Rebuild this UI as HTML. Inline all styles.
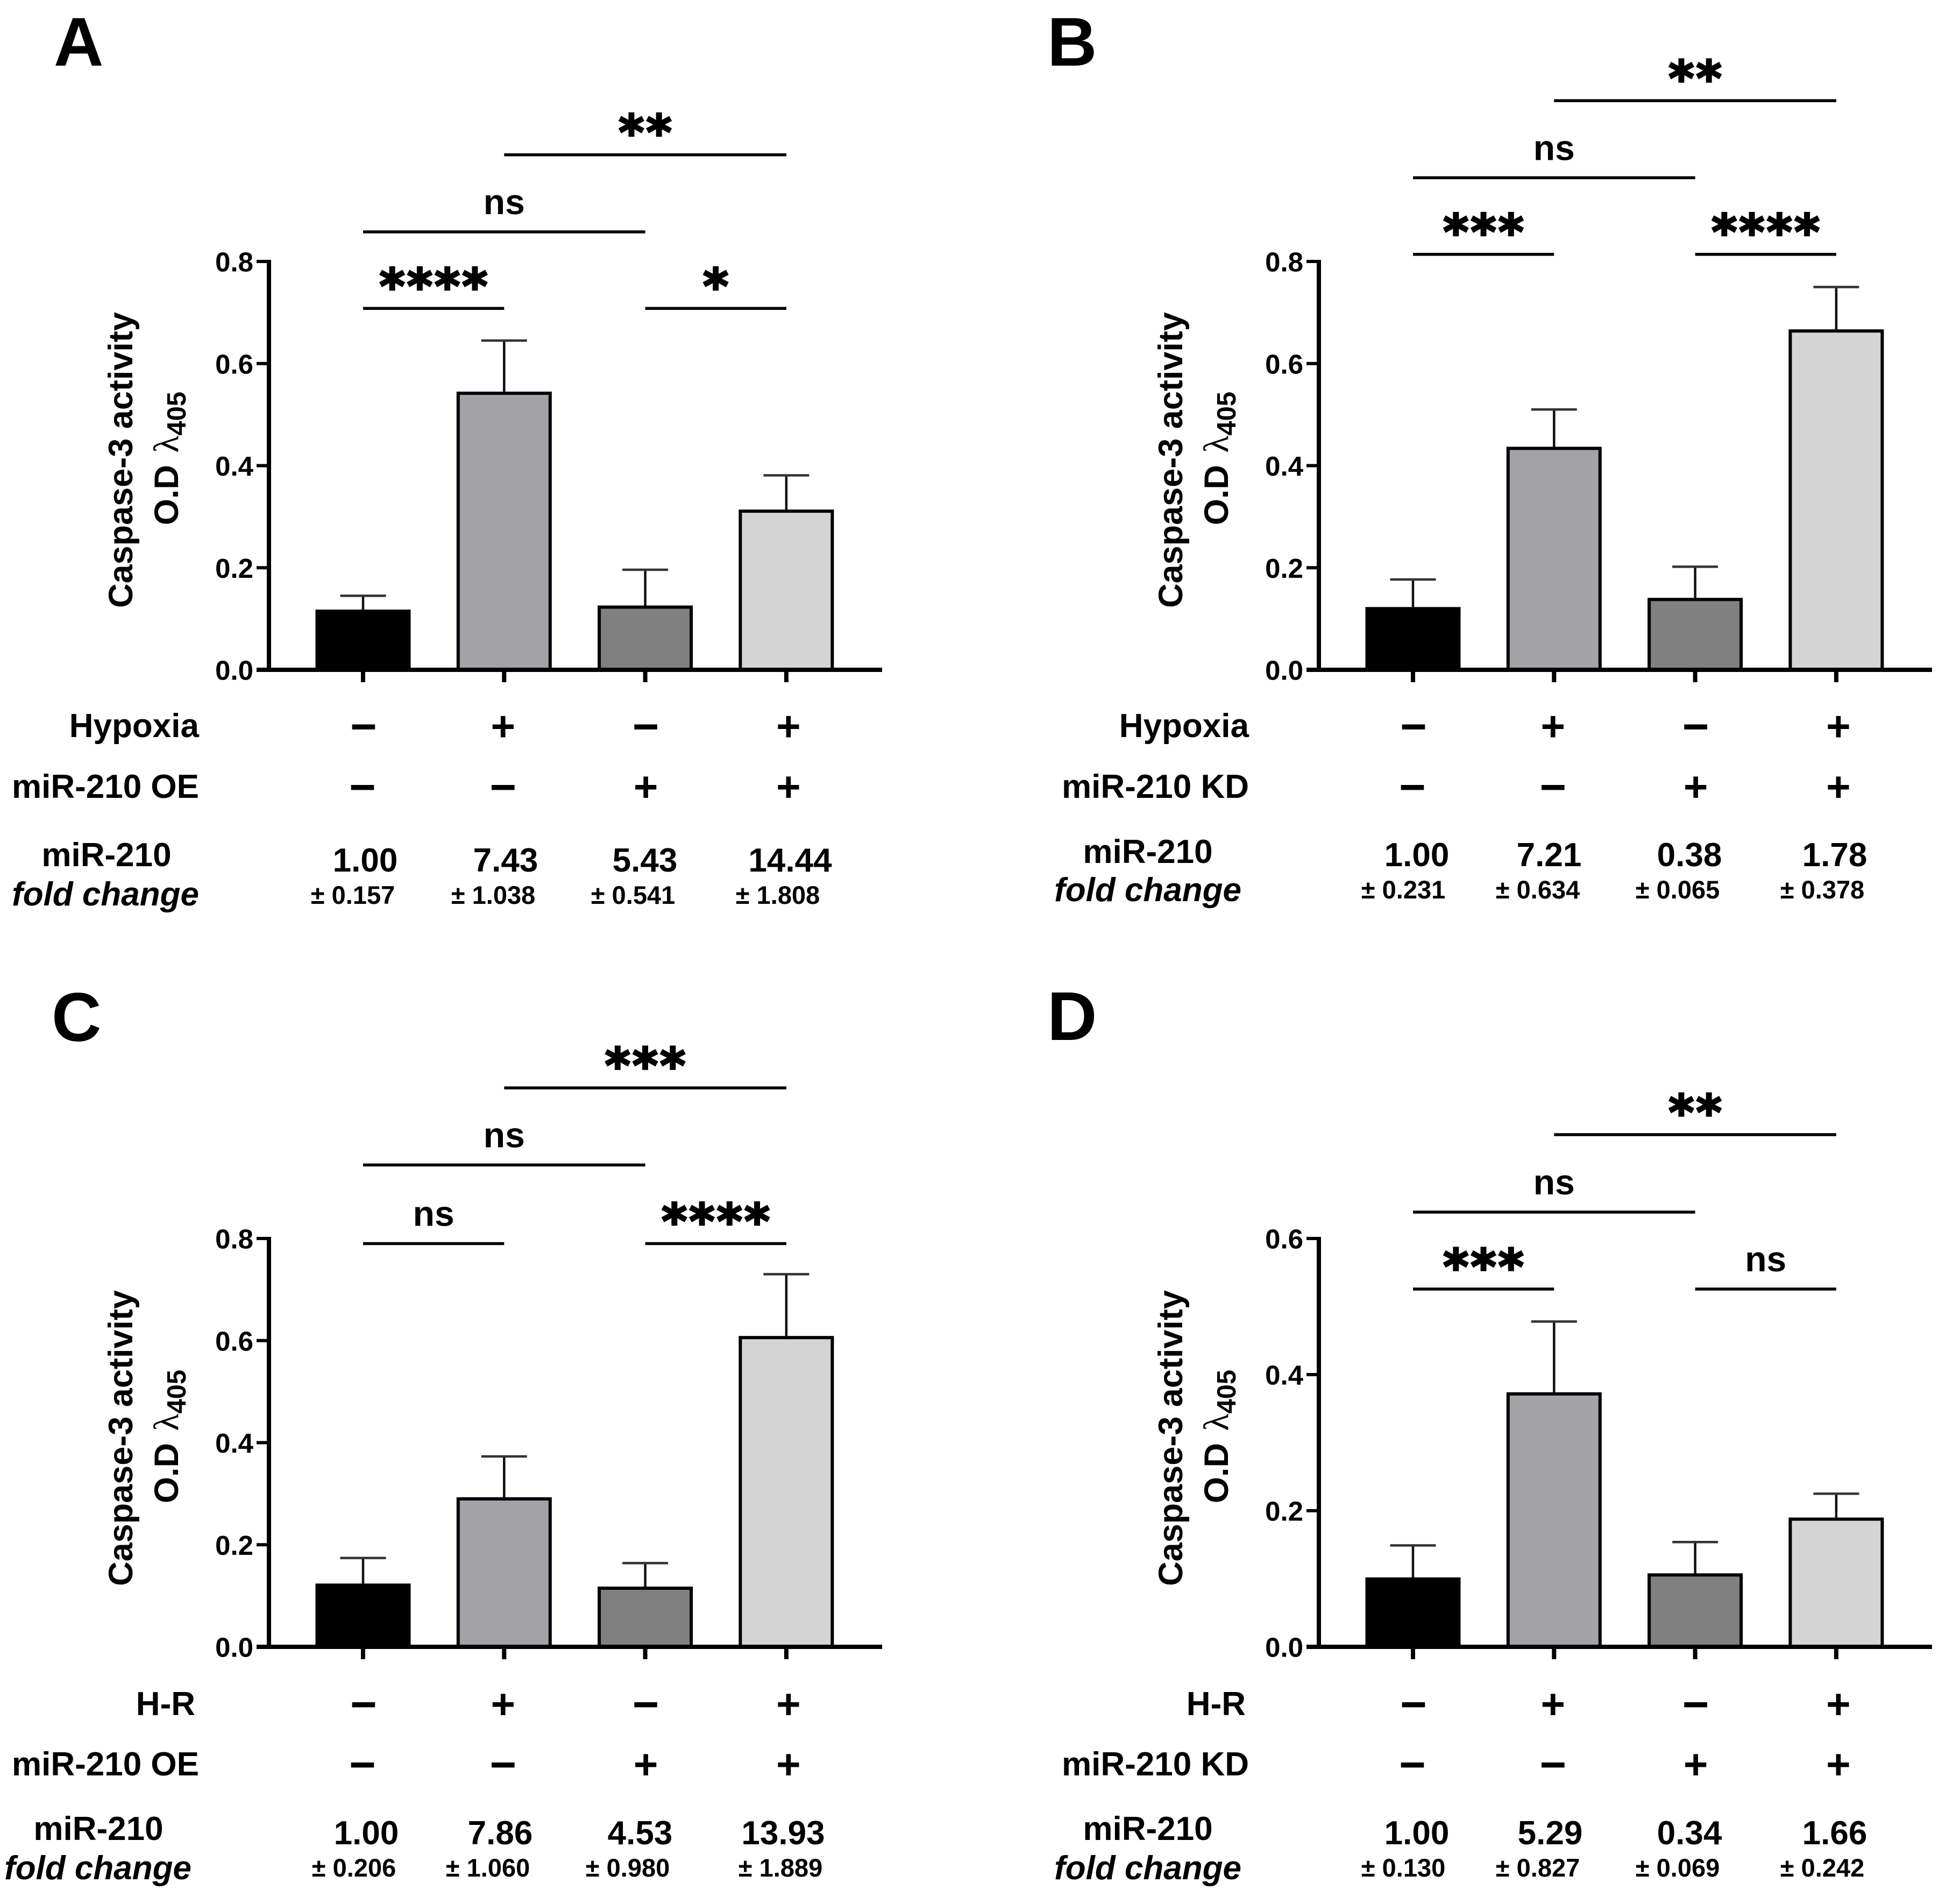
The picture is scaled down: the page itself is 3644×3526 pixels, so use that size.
<!DOCTYPE html>
<html lang="en">
<head>
<meta charset="utf-8">
<title>Caspase-3 activity panels</title>
<style>
html,body{margin:0;padding:0;background:#fff;}
svg{display:block;}
text{font-family:"Liberation Sans",Arial,sans-serif;font-weight:bold;fill:#000;}
.letter{font-size:128px;}
.title{font-size:63px;text-anchor:middle;}
.lambda{font-family:"Liberation Serif",serif;font-weight:normal;font-size:66px;}
.sub{font-size:49px;}
.row{font-size:62px;text-anchor:end;}
.mid{font-size:62px;text-anchor:middle;}
.fold{font-size:62px;text-anchor:end;font-style:italic;}
</style>
</head>
<body>
<svg id="figure" xmlns="http://www.w3.org/2000/svg" width="3644" height="3526" viewBox="0 0 3644 3526">
  <rect x="0" y="0" width="3644" height="3526" fill="#fff"/>

  <text class="letter" x="100" y="122">A</text>
  <text class="letter" x="1947" y="122">B</text>
  <text class="letter" x="96" y="1935">C</text>
  <text class="letter" x="1947" y="1933">D</text>

  <text class="title" transform="translate(246,855) rotate(-90)">Caspase-3 activity</text>
  <text class="title" transform="translate(331,852) rotate(-90)">O.D <tspan class="lambda" dx="5">λ</tspan><tspan class="sub" dy="14">405</tspan></text>
  <text class="title" transform="translate(2198,855) rotate(-90)">Caspase-3 activity</text>
  <text class="title" transform="translate(2283,852) rotate(-90)">O.D <tspan class="lambda" dx="5">λ</tspan><tspan class="sub" dy="14">405</tspan></text>
  <text class="title" transform="translate(246,2673) rotate(-90)">Caspase-3 activity</text>
  <text class="title" transform="translate(331,2670) rotate(-90)">O.D <tspan class="lambda" dx="5">λ</tspan><tspan class="sub" dy="14">405</tspan></text>
  <text class="title" transform="translate(2198,2673) rotate(-90)">Caspase-3 activity</text>
  <text class="title" transform="translate(2283,2670) rotate(-90)">O.D <tspan class="lambda" dx="5">λ</tspan><tspan class="sub" dy="14">405</tspan></text>

  <text class="row" x="370" y="1370">Hypoxia</text>
  <text class="row" x="370" y="1483">miR-210 OE</text>
  <text class="mid" x="198" y="1610">miR-210</text>
  <text class="fold" x="370" y="1683">fold change</text>

  <text class="row" x="2322" y="1370">Hypoxia</text>
  <text class="row" x="2322" y="1483">miR-210 KD</text>
  <text class="mid" x="2134" y="1604">miR-210</text>
  <text class="fold" x="2308" y="1675">fold change</text>

  <text class="row" x="363" y="3188">H-R</text>
  <text class="row" x="370" y="3300">miR-210 OE</text>
  <text class="mid" x="183" y="3420">miR-210</text>
  <text class="fold" x="356" y="3493">fold change</text>

  <text class="row" x="2316" y="3188">H-R</text>
  <text class="row" x="2322" y="3300">miR-210 KD</text>
  <text class="mid" x="2134" y="3420">miR-210</text>
  <text class="fold" x="2308" y="3493">fold change</text>
</svg>

<script>
// ---- chart data ----
const categories = ['control', 'stress', 'mir210', 'stress-mir210'];
const barColors = ['#000000', '#a3a3a7', '#808080', '#d4d4d4'];

const ticksEight = ['0.0', '0.2', '0.4', '0.6', '0.8'];
const ticksSix = ['0.0', '0.2', '0.4', '0.6'];

const meansA = [0.118, 0.545, 0.126, 0.314];
const errorsA = [0.027, 0.100, 0.070, 0.067];
const meansB = [0.123, 0.437, 0.141, 0.667];
const errorsB = [0.054, 0.073, 0.061, 0.083];
const meansC = [0.124, 0.293, 0.118, 0.609];
const errorsC = [0.050, 0.080, 0.046, 0.121];
const meansD = [0.102, 0.374, 0.108, 0.190];
const errorsD = [0.047, 0.104, 0.046, 0.035];

const stressSigns = ['−', '+', '−', '+'];
const mirSigns = ['−', '−', '+', '+'];

const foldA = ['1.00', '7.43', '5.43', '14.44'];
const foldErrA = ['± 0.157', '± 1.038', '± 0.541', '± 1.808'];
const foldB = ['1.00', '7.21', '0.38', '1.78'];
const foldErrB = ['± 0.231', '± 0.634', '± 0.065', '± 0.378'];
const foldC = ['1.00', '7.86', '4.53', '13.93'];
const foldErrC = ['± 0.206', '± 1.060', '± 0.980', '± 1.889'];
const foldD = ['1.00', '5.29', '0.34', '1.66'];
const foldErrD = ['± 0.130', '± 0.827', '± 0.069', '± 0.242'];

// significance brackets: [first bar, last bar, level in axis units, label]
const sigA = [[1, 3, 1.009, '**'], [0, 2, 0.858, 'ns'], [0, 1, 0.708, '****'], [2, 3, 0.708, '*']];
const sigB = [[1, 3, 1.115, '**'], [0, 2, 0.964, 'ns'], [0, 1, 0.814, '***'], [2, 3, 0.814, '****']];
const sigC = [[1, 3, 1.095, '***'], [0, 2, 0.944, 'ns'], [0, 1, 0.790, 'ns'], [2, 3, 0.790, '****']];
const sigD = [[1, 3, 0.7526, '**'], [0, 2, 0.6387, 'ns'], [0, 1, 0.5257, '***'], [2, 3, 0.5257, 'ns']];

// ---- layout ----
const NS = 'http://www.w3.org/2000/svg';
const svg = document.getElementById('figure');
const AXIS_HEIGHT = 759;
const BAR_STEP = 262.3;
const BAR_WIDTH = 177;

function make(tag, attrs, text) {
  const el = document.createElementNS(NS, tag);
  for (const k in attrs) el.setAttribute(k, attrs[k]);
  if (text !== undefined) el.textContent = text;
  svg.appendChild(el);
  return el;
}

function drawPanel(p) {
  const id = p.id;
  const xScale = function (i) { return p.firstBar + i * BAR_STEP; };
  const yScale = function (v) { return p.base - v / p.max * AXIS_HEIGHT; };
  const axisX = p.firstBar - 175;
  const leftX = p.firstBar - 198;
  const rightX = p.firstBar + 965;

  categories.forEach(function (cat, i) {
    const cx = xScale(i);
    const top = yScale(p.means[i]);
    const errTop = yScale(p.means[i] + p.errors[i]);

    const stem = make('line', { x1: cx, x2: cx, y1: top, y2: errTop, stroke: '#111', 'stroke-width': 4.5 });
    
    

    const cap = make('line', { x1: cx - 42.5, x2: cx + 42.5, y1: errTop, y2: errTop, stroke: '#333', 'stroke-width': 4.5 });
    
    

    const bar = make('rect', { x: cx - BAR_WIDTH / 2 + 3, y: top + 3, width: BAR_WIDTH - 6, height: Math.max(0, p.base - top - 3), fill: barColors[i], stroke: '#000', 'stroke-width': 6 });
    
    

    const tick = make('line', { x1: cx, x2: cx, y1: p.base, y2: p.base + 23, stroke: '#000', 'stroke-width': 8 });
    
    

    // +/- rows
    const signs = [p.stress[i], mirSigns[i]];
    const signY = [p.base + p.row1, p.base + p.row2];
    const signOff = [[1, -2, 1, 4], [-1, -2, 1, 4]];
    signs.forEach(function (s, r) {
      const isPlus = s === '+';
      const sign = make('text', {
        x: cx + signOff[r][i],
        y: signY[r] + (isPlus ? 26 : 29),
        'text-anchor': 'middle',
        style: 'font-size:' + (isPlus ? 78 : 85) + 'px'
      }, s);
      
      
    });

    // fold change value
    const val = make('text', { x: p.foldX[i], y: p.foldY, 'text-anchor': 'middle', style: 'font-size:62px' }, p.fold[i]);
    
    

    const sd = make('text', { x: p.errX[i], y: p.errY, 'text-anchor': 'middle', style: 'font-size:47px' }, p.foldErr[i]);
    
    
  });

  // axes
  const yAxis = make('line', { x1: axisX, x2: axisX, y1: yScale(p.max) - 3, y2: p.base, stroke: '#000', 'stroke-width': 8 });
  
  

  const xAxis = make('line', { x1: leftX, x2: rightX, y1: p.base, y2: p.base, stroke: '#000', 'stroke-width': 8 });
  
  

  p.ticks.forEach(function (label) {
    const y = yScale(parseFloat(label));
    const t = make('line', { x1: leftX, x2: axisX, y1: y, y2: y, stroke: '#000', 'stroke-width': 6 });
    
    

    const lab = make('text', { x: leftX - 6, y: y + 18.5, 'text-anchor': 'end', style: 'font-size:51px' }, label);
    
    
  });

  // significance
  p.sig.forEach(function (s, n) {
    const x1 = xScale(s[0]);
    const x2 = xScale(s[1]);
    const y = yScale(s[2]);
    const line = make('line', { x1: x1, x2: x2, y1: y, y2: y, stroke: '#000', 'stroke-width': 5.5 });
    
    

    const cx = (x1 + x2) / 2;
    let label;
    if (s[3] === 'ns') {
      label = make('text', { x: cx, y: y - 33, 'text-anchor': 'middle', style: 'font-size:66px' }, s[3]);
    } else {
      label = make('text', {
        x: cx + 2, y: y - 51 + 41, 'text-anchor': 'middle',
        style: 'font-family:"DejaVu Sans",sans-serif;font-size:90px;letter-spacing:4.2px;stroke:#000;stroke-width:3.5px'
      }, s[3]);
    }
    
    
  });
}

drawPanel({
  id: 'a', firstBar: 675, base: 1245, max: 0.8, ticks: ticksEight, means: meansA, errors: errorsA, sig: sigA,
  stress: stressSigns, row1: 105.5, row2: 218, fold: foldA, foldErr: foldErrA, foldY: 1620, errY: 1680,
  foldX: [679, 940, 1199, 1469], errX: [656, 917, 1177, 1446]
});
drawPanel({
  id: 'b', firstBar: 2627, base: 1245, max: 0.8, ticks: ticksEight, means: meansB, errors: errorsB, sig: sigB,
  stress: stressSigns, row1: 105.5, row2: 218, fold: foldB, foldErr: foldErrB, foldY: 1610, errY: 1670,
  foldX: [2634, 2880, 3141, 3411], errX: [2609, 2859, 3119, 3388]
});
drawPanel({
  id: 'c', firstBar: 675, base: 3061, max: 0.8, ticks: ticksEight, means: meansC, errors: errorsC, sig: sigC,
  stress: stressSigns, row1: 107, row2: 219, fold: foldC, foldErr: foldErrC, foldY: 3428, errY: 3488,
  foldX: [681, 930, 1190, 1456], errX: [658, 907, 1167, 1451]
});
drawPanel({
  id: 'd', firstBar: 2627, base: 3061, max: 0.6, ticks: ticksSix, means: meansD, errors: errorsD, sig: sigD,
  stress: stressSigns, row1: 107, row2: 219, fold: foldD, foldErr: foldErrD, foldY: 3428, errY: 3488,
  foldX: [2634, 2882, 3141, 3411], errX: [2609, 2859, 3119, 3388]
});
</script>
</body>
</html>
